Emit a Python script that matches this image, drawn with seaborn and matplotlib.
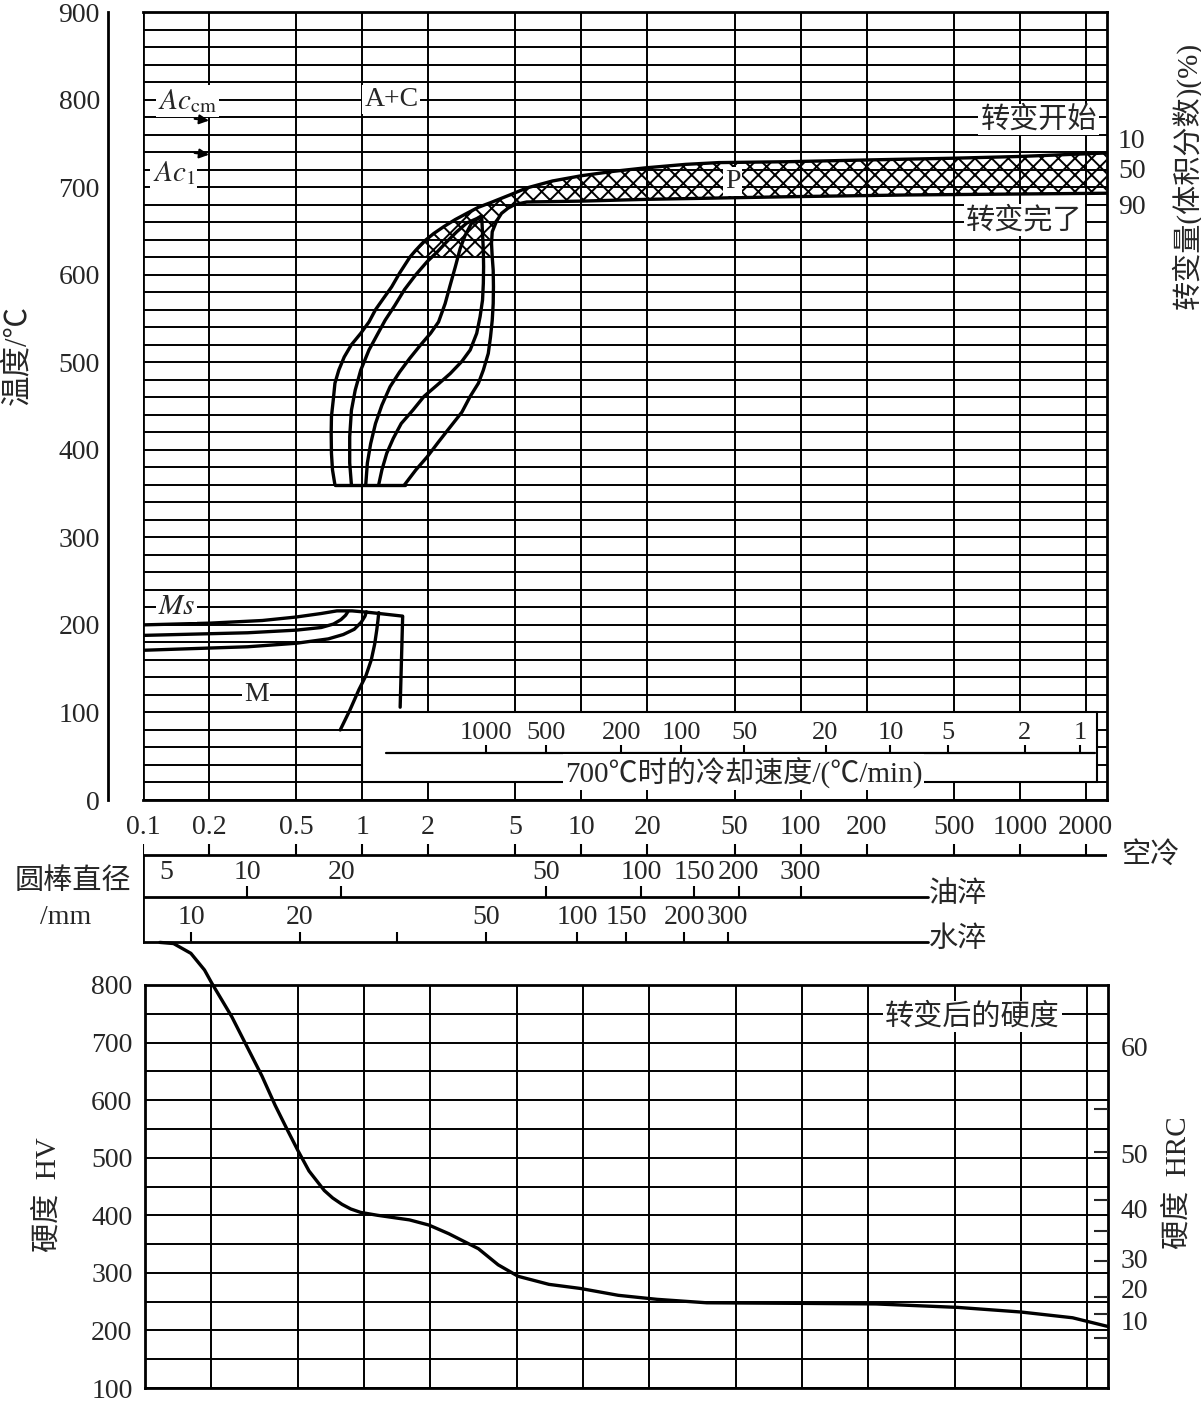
#!/usr/bin/env python3
"""
连续冷却转变图 (CCT) 与转变后硬度曲线。
"""

import matplotlib
matplotlib.use('Agg')
import matplotlib.pyplot as plt
from matplotlib.patches import Rectangle
import seaborn as sns

# ---------------- 数据 ----------------
# 时间轴刻度
time_ticks = [0.1, 0.2, 0.5, 1, 2, 5, 10, 20, 50, 100, 200, 500, 1000, 2000]
time_labels = ['0.1', '0.2', '0.5', '1', '2', '5', '10', '20', '50',
               '100', '200', '500', '1000', '2000']
temp_ticks = [0, 100, 200, 300, 400, 500, 600, 700, 800, 900]
hv_ticks = [100, 200, 300, 400, 500, 600, 700, 800]

# 转变开始线 (10%) 及珠光体带上沿
start_t = [0.751, 0.732, 0.724, 0.722, 0.724, 0.738, 0.751, 0.782, 0.828, 0.893,
           0.985, 1.074, 1.15, 1.251, 1.362, 1.483, 1.65, 1.757, 1.915, 2.12,
           2.36, 2.66, 3.0, 3.39, 3.83, 4.71, 5.63, 7.38, 10, 14, 19.6, 30,
           42.3, 86.9, 200, 500, 1000, 2490]
start_T = [360, 377, 396, 419, 438, 457, 476, 491, 506, 520,
           533, 546, 560, 573, 586, 602, 620, 628, 638, 647,
           655, 663, 670, 677, 682, 691, 699, 707, 713, 718, 722, 726,
           728, 729, 731, 733, 735, 739]

# 中间各线
b_t = [0.893, 0.877, 0.877, 0.893, 0.929, 0.985, 1.074, 1.169, 1.273, 1.41,
       1.56, 1.757, 1.98, 2.2, 2.44, 2.70, 3.0, 3.33, 3.51]
b_T = [360, 385, 415, 445, 468, 491, 514, 531, 548, 565,
       583, 600, 615, 626, 638, 649, 659, 664, 667]
c_t = [1.038, 1.056, 1.093, 1.15, 1.23, 1.34, 1.483, 1.643, 1.85, 2.05,
       2.23, 2.39, 2.52, 2.66, 2.80, 2.95, 3.16, 3.45]
c_T = [360, 385, 407, 430, 451, 472, 489, 504, 520, 533,
       546, 567, 588, 609, 630, 645, 659, 666]
d_t = [1.189, 1.23, 1.294, 1.386, 1.507, 1.70, 1.915, 2.2, 2.52, 2.85,
       3.11, 3.33, 3.45, 3.54, 3.57, 3.58, 3.57, 3.54, 3.51]
d_T = [360, 377, 396, 413, 430, 445, 461, 474, 487, 501,
       514, 533, 552, 571, 590, 609, 628, 647, 666]

# 转变完了线 (90%) 及珠光体带下沿
end_t = [1.56, 1.757, 1.98, 2.23, 2.52, 2.85, 3.11, 3.39, 3.57, 3.76,
         3.85, 3.92, 3.96, 3.97, 3.96, 3.92, 3.89, 3.92, 4.10, 4.32,
         4.63, 4.96, 5.63, 10, 19.6, 86.9, 301, 2490]
end_T = [360, 377, 392, 409, 426, 443, 461, 476, 491, 510,
         529, 548, 567, 586, 605, 620, 636, 649, 661, 670,
         676, 680, 683, 684, 686, 689, 691, 693]

# 底部水平线
base_t = [0.751, 1.56]
base_T = [360, 360]

# 马氏体区
ms1_t = [0.1, 0.202, 0.35, 0.5, 0.65, 0.767, 0.9, 1.10, 1.53, 1.49]
ms1_T = [200, 202, 205, 209, 213, 216, 216, 214, 210, 106]
ms2_t = [0.1, 0.3, 0.5, 0.65, 0.74, 0.80, 0.84, 0.86]
ms2_T = [188, 191, 194, 197, 201, 206, 211, 215]
ms3_t = [0.1, 0.3, 0.5, 0.7, 0.82, 0.92, 0.99, 1.03, 1.045]
ms3_T = [171, 175, 179, 184, 189, 195, 203, 210, 215]
mf_t = [1.19, 1.18, 1.165, 1.14, 1.10, 1.04, 0.966, 0.88, 0.794]
mf_T = [214, 205, 194, 178, 160, 142, 126, 103, 80]

# 700℃时的冷却速度 (℃/min)
rate_labels = ['1000', '500', '200', '100', '50', '20', '10', '5', '2', '1']
rate_pos = [3.66, 6.89, 15.2, 28.6, 55.4, 130, 257, 471, 1051, 1884]

# 圆棒直径 / mm
oil_labels = ['5', '10', '20', '50', '100', '150', '200', '300']
oil_pos = [0.127, 0.299, 0.804, 6.92, 18.8, 32.8, 52.3, 100]
water_labels = ['10', '20', '', '50', '100', '150', '200', '300']
water_pos = [0.166, 0.518, 1.44, 3.66, 9.57, 16.0, 29.5, 46.5]

# 转变后的硬度 HV
hard_t = [0.117, 0.135, 0.162, 0.187, 0.202, 0.249, 0.286, 0.342, 0.393, 0.45,
          0.5, 0.561, 0.659, 0.72, 0.794, 0.87, 0.966, 1.153, 1.614, 1.98,
          2.44, 3.33, 4.1, 5.06, 7.0, 9.7, 14.5, 21.8, 36.8, 100,
          218, 515, 1000, 1722, 2490]
hard_hv = [874, 872, 855, 826, 803, 745, 700, 642, 591, 546,
           512, 477, 443, 430, 419, 411, 405, 400, 392, 383,
           368, 342, 314, 294, 280, 273, 261, 254, 248, 247,
           246, 240, 232, 222, 207]

# HRC 对照刻度
hrc_labels = ['60', '50', '40', '30', '20', '10']
hrc_label_hv = [694, 508, 412, 325, 272, 218]
hrc_tick_hv = [584, 510, 426, 373, 321, 258, 229, 186]

# ---------------- 样式 ----------------
sns.set_style('white')
plt.rcParams['font.family'] = ['Liberation Serif', 'Noto Sans CJK SC']
plt.rcParams['mathtext.fontset'] = 'stix'
plt.rcParams['axes.unicode_minus'] = False
plt.rcParams['hatch.color'] = 'black'
plt.rcParams['hatch.linewidth'] = 1.4

W, H = 1201, 1404
FS = 20
FS_CN = 21
LW_GRID = 1.4
LW_CURVE = 2.4
WHITE = dict(facecolor='white', edgecolor='none', pad=1.5)


def box(l, t, r, b):
    """像素边界 -> figure 坐标。"""
    return [l / W, 1 - b / H, (r - l) / W, (b - t) / H]


def curve(ax, t, T, **kw):
    sns.lineplot(x=t, y=T, sort=False, estimator=None, color='black',
                 linewidth=LW_CURVE, ax=ax, **kw)


fig = plt.figure(figsize=(W / 100, H / 100), dpi=100)

# ---------------- 上部 CCT 图 ----------------
ax = fig.add_axes(box(143, 12, 1107, 800))
ax.set_xscale('log')
ax.set_xlim(0.1, 2500)
ax.set_ylim(0, 900)
ax.set_xticks(time_ticks)
ax.set_xticks([], minor=True)
ax.set_yticks(temp_ticks)
ax.set_yticks(range(0, 901, 20), minor=True)
ax.tick_params(axis='x', which='both', length=0, labelbottom=False)
ax.tick_params(axis='y', which='major', direction='in', length=7, width=1.5,
               pad=6, labelsize=FS)
ax.tick_params(axis='y', which='minor', length=0)
ax.grid(True, which='both', color='black', linewidth=LW_GRID)
ax.set_axisbelow(True)
for s in ax.spines.values():
    s.set_linewidth(2)
    s.set_color('black')
ax.spines['left'].set_position(('outward', 25))
ax.axvline(0.1, color='black', linewidth=2, zorder=1)

# 珠光体转变区阴影
poly_t = [t for t, T in zip(start_t, start_T) if T >= 620] + \
         [t for t, T in zip(end_t[::-1], end_T[::-1]) if T >= 620]
poly_T = [T for T in start_T if T >= 620] + [T for T in end_T[::-1] if T >= 620]
ax.fill(poly_t, poly_T, facecolor='none', edgecolor='black', hatch='xx',
        linewidth=0, zorder=1.5)

for t, T in [(start_t, start_T), (b_t, b_T), (c_t, c_T), (d_t, d_T),
             (end_t, end_T), (base_t, base_T), (ms1_t, ms1_T),
             (ms2_t, ms2_T), (ms3_t, ms3_T), (mf_t, mf_T)]:
    curve(ax, t, T)

# 冷却速度标尺
ax.add_patch(Rectangle((1, 20), 2255 - 1, 80, facecolor='white',
                       edgecolor='black', linewidth=1.5, zorder=1))
ax.plot([1.28, 2210], [54, 54], color='black', linewidth=1.6, zorder=1.2)
ax.vlines(rate_pos, 54, 63, color='black', linewidth=1.5, zorder=1.2)
for p, lab in zip(rate_pos, rate_labels):
    ax.text(p, 76, lab, ha='center', va='center', fontsize=FS - 1, zorder=3)
ax.text(55, 32, '700℃时的冷却速度/(℃/min)', ha='center', va='center',
        fontsize=FS_CN, bbox=WHITE, zorder=3)

# 区域标注
ax.text(1.36, 800, 'A+C', ha='center', va='center', fontsize=FS, bbox=WHITE, zorder=3)
ax.text(49, 706, 'P', ha='center', va='center', fontsize=FS, bbox=WHITE, zorder=3)
ax.text(0.16, 798, r'$Ac_{\mathrm{cm}}$', ha='center', va='center',
        fontsize=FS + 1, bbox=WHITE, zorder=3)
ax.text(0.138, 716, r'$Ac_{\mathrm{1}}$', ha='center', va='center',
        fontsize=FS + 1, bbox=WHITE, zorder=3)
ax.text(0.142, 220, r'$Ms$', ha='center', va='center', fontsize=FS + 1,
        bbox=WHITE, zorder=3)
ax.text(0.328, 120, 'M', ha='center', va='center', fontsize=FS, bbox=WHITE, zorder=3)
ax.text(1220, 777, '转变开始', ha='center', va='center', fontsize=FS_CN,
        bbox=WHITE, zorder=3)
ax.text(1050, 662, '转变完了', ha='center', va='center', fontsize=FS_CN,
        bbox=WHITE, zorder=3)
for T0, T1 in [(778, 776), (739, 737)]:
    ax.annotate('', xy=(0.2, T1), xytext=(0.172, T0),
                arrowprops=dict(arrowstyle='-|>', color='black', lw=1.5,
                                mutation_scale=14, shrinkA=0, shrinkB=0),
                zorder=3)

# ---------------- 中部: 时间刻度与圆棒直径 ----------------
axm = fig.add_axes(box(143, 800, 1107, 945))
axm.set_xscale('log')
axm.set_xlim(0.1, 2500)
axm.set_ylim(145, 0)
axm.axis('off')
axm.plot([0.1, 2500], [55, 55], color='black', linewidth=2)
axm.plot([0.1, 380], [97, 97], color='black', linewidth=2)
axm.plot([0.1, 380], [142, 142], color='black', linewidth=2)
axm.plot([0.1, 0.1], [55, 142], color='black', linewidth=2)
axm.vlines(time_ticks, 44, 55, color='black', linewidth=1.5)
for t, lab in zip(time_ticks, time_labels):
    axm.text(t, 27, lab, ha='center', va='center', fontsize=FS)
axm.vlines(oil_pos[1:], 86, 97, color='black', linewidth=1.5)
for p, lab in zip(oil_pos, oil_labels):
    axm.text(p, 72, lab, ha='center', va='center', fontsize=FS)
axm.vlines(water_pos, 132, 142, color='black', linewidth=1.5)
for p, lab in zip(water_pos, water_labels):
    axm.text(p, 118, lab, ha='center', va='center', fontsize=FS)

# ---------------- 下部: 硬度 ----------------
axb = fig.add_axes(box(145, 985, 1108, 1388))
axb.set_xscale('log')
axb.set_xlim(0.1, 2500)
axb.set_ylim(100, 800)
axb.set_xticks(time_ticks)
axb.set_xticks([], minor=True)
axb.set_yticks(hv_ticks)
axb.set_yticks(range(100, 801, 50), minor=True)
axb.tick_params(axis='x', which='both', length=0, labelbottom=False)
axb.tick_params(axis='y', which='both', length=0, pad=9, labelsize=FS)
axb.grid(True, which='both', color='black', linewidth=LW_GRID)
axb.set_axisbelow(True)
for s in axb.spines.values():
    s.set_linewidth(2)
    s.set_color('black')
curve(axb, hard_t, hard_hv)
axb.lines[-1].set_clip_on(False)
axb.text(601, 745, '转变后的硬度', ha='center', va='center', fontsize=FS_CN,
         bbox=WHITE, zorder=3)

axr = axb.twinx()
axr.set_ylim(100, 800)
axr.set_yticks(hrc_label_hv, hrc_labels)
axr.set_yticks(hrc_tick_hv, minor=True)
axr.tick_params(axis='y', which='major', length=0, pad=9, labelsize=FS)
axr.tick_params(axis='y', which='minor', direction='in', length=10, width=1.5)
axr.grid(False)
for s in axr.spines.values():
    s.set_visible(False)

# ---------------- 轴外文字 ----------------
fig.text(18 / W, 1 - 355 / H, '温度/℃', rotation=90, ha='center', va='center', fontsize=22)
fig.text(1187 / W, 1 - 175 / H, '转变量(体积分数)(%)', rotation=90,
         ha='center', va='center', fontsize=FS_CN)
for y, lab in [(141, '10'), (171, '50'), (208, '90')]:
    fig.text(1118 / W, 1 - y / H, lab, ha='left', va='center', fontsize=FS)
fig.text(1122 / W, 1 - 855 / H, '空冷', ha='left', va='center', fontsize=FS_CN)
fig.text(929 / W, 1 - 895 / H, '油淬', ha='left', va='center', fontsize=FS_CN)
fig.text(929 / W, 1 - 940 / H, '水淬', ha='left', va='center', fontsize=FS_CN)
fig.text(73 / W, 1 - 882 / H, '圆棒直径', ha='center', va='center', fontsize=FS_CN)
fig.text(66 / W, 1 - 918 / H, '/mm', ha='center', va='center', fontsize=FS)
fig.text(48 / W, 1 - 1195 / H, '硬度  HV', rotation=90, ha='center', va='center', fontsize=FS_CN)
fig.text(1178 / W, 1 - 1183 / H, '硬度  HRC', rotation=90, ha='center', va='center', fontsize=FS_CN)

fig.savefig('out.png', dpi=100)
